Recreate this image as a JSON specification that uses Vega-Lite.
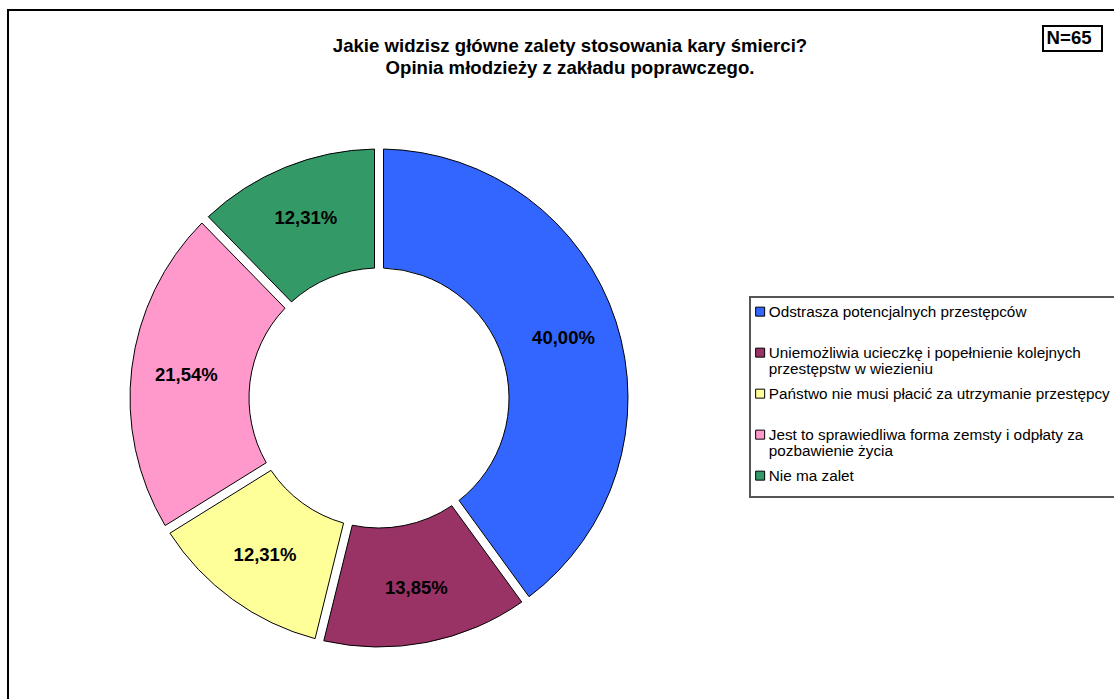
{
  "$schema": "https://vega.github.io/schema/vega-lite/v6.json",
  "width": 744,
  "height": 602,
  "autosize": {"type": "none"},
  "padding": {"left": 7, "top": 97, "right": 363, "bottom": 0},
  "background": "white",
  "title": {
    "text": ["Jakie widzisz główne zalety stosowania kary śmierci?", "Opinia młodzieży z zakładu poprawczego."],
    "font": "Liberation Sans",
    "fontSize": 18.6,
    "fontWeight": "bold",
    "color": "black",
    "anchor": "middle",
    "frame": "group",
    "baseline": "alphabetic",
    "dx": 191,
    "offset": -84,
    "lineHeight": 22
  },
  "data": {
    "values": [
      {"category": "Odstrasza potencjalnych przestępców", "value": 0.4, "order": 1},
      {"category": "Uniemożliwia ucieczkę i popełnienie kolejnych przestępstw w wiezieniu", "value": 0.1385, "order": 2},
      {"category": "Państwo nie musi płacić za utrzymanie przestępcy", "value": 0.1231, "order": 3},
      {"category": "Jest to sprawiedliwa forma zemsty i odpłaty za pozbawienie życia", "value": 0.2154, "order": 4},
      {"category": "Nie ma zalet", "value": 0.1231, "order": 5}
    ]
  },
  "encoding": {
    "theta": {"field": "value", "type": "quantitative", "stack": true},
    "order": {"field": "order", "type": "quantitative"}
  },
  "layer": [
    {
      "mark": {"type": "arc", "innerRadius": 130, "outerRadius": 249, "padAngle": 0.032, "stroke": "black", "strokeWidth": 1},
      "encoding": {
        "color": {
          "field": "category",
          "type": "nominal",
          "scale": {
            "domain": [
              "Odstrasza potencjalnych przestępców",
              "Uniemożliwia ucieczkę i popełnienie kolejnych przestępstw w wiezieniu",
              "Państwo nie musi płacić za utrzymanie przestępcy",
              "Jest to sprawiedliwa forma zemsty i odpłaty za pozbawienie życia",
              "Nie ma zalet"
            ],
            "range": ["#3366FF", "#993366", "#FFFF99", "#FF99CC", "#339966"]
          },
          "legend": {
            "orient": "none",
            "legendX": 743,
            "legendY": 200,
            "title": " ",
            "titleOrient": "bottom",
            "titleFontSize": 5,
            "titlePadding": 1,
            "strokeColor": "#555555",
            "fillColor": "white",
            "padding": 7,
            "symbolType": "square",
            "symbolSize": 81,
            "symbolOffset": -4.5,
            "symbolStrokeColor": "black",
            "symbolStrokeWidth": 1,
            "symbolOpacity": 1,
            "labelFont": "Liberation Sans",
            "labelFontSize": 15.3,
            "labelColor": "black",
            "labelLimit": 0,
            "labelOffset": 1,
            "rowPadding": 9,
            "gridAlign": "all",
            "labelExpr": "datum.label == 'Uniemożliwia ucieczkę i popełnienie kolejnych przestępstw w wiezieniu' ? ['Uniemożliwia ucieczkę i popełnienie kolejnych', 'przestępstw w wiezieniu'] : datum.label == 'Jest to sprawiedliwa forma zemsty i odpłaty za pozbawienie życia' ? ['Jest to sprawiedliwa forma zemsty i odpłaty za', 'pozbawienie życia'] : datum.label",
            "encode": {"labels": {"update": {"lineHeight": {"value": 16}}}}
          }
        },
        "opacity": {
          "datum": "N=65",
          "type": "nominal",
          "scale": {"type": "ordinal", "range": [1]},
          "legend": {
            "orient": "none",
            "legendX": 1036,
            "legendY": -71,
            "title": " ",
            "titleOrient": "right",
            "titleFontSize": 6,
            "titlePadding": 7,
            "strokeColor": "black",
            "fillColor": "white",
            "padding": 3,
            "symbolSize": 0,
            "symbolOpacity": 0,
            "symbolStrokeWidth": 0,
            "labelOffset": -18,
            "labelFont": "Liberation Sans",
            "labelFontSize": 18.6,
            "labelFontWeight": "bold",
            "labelColor": "black"
          }
        }
      }
    },
    {
      "mark": {"type": "text", "radius": 194, "font": "Liberation Sans", "fontWeight": "bold", "color": "black"},
      "encoding": {
        "text": {"field": "value", "type": "quantitative", "format": ".2%"},
        "size": {
          "datum": "frame",
          "type": "nominal",
          "scale": {"type": "ordinal", "range": [18.5]},
          "legend": {
            "orient": "none",
            "legendX": 1,
            "legendY": -87,
            "title": null,
            "padding": 1500,
            "strokeColor": "black",
            "symbolOpacity": 0,
            "symbolStrokeWidth": 0,
            "labelOpacity": 0
          }
        }
      }
    }
  ],
  "config": {
    "view": {"stroke": null},
    "legend": {"strokeWidth": 2},
    "locale": {
      "number": {"decimal": ",", "thousands": " ", "grouping": [3], "currency": ["", " zł"]}
    }
  }
}
